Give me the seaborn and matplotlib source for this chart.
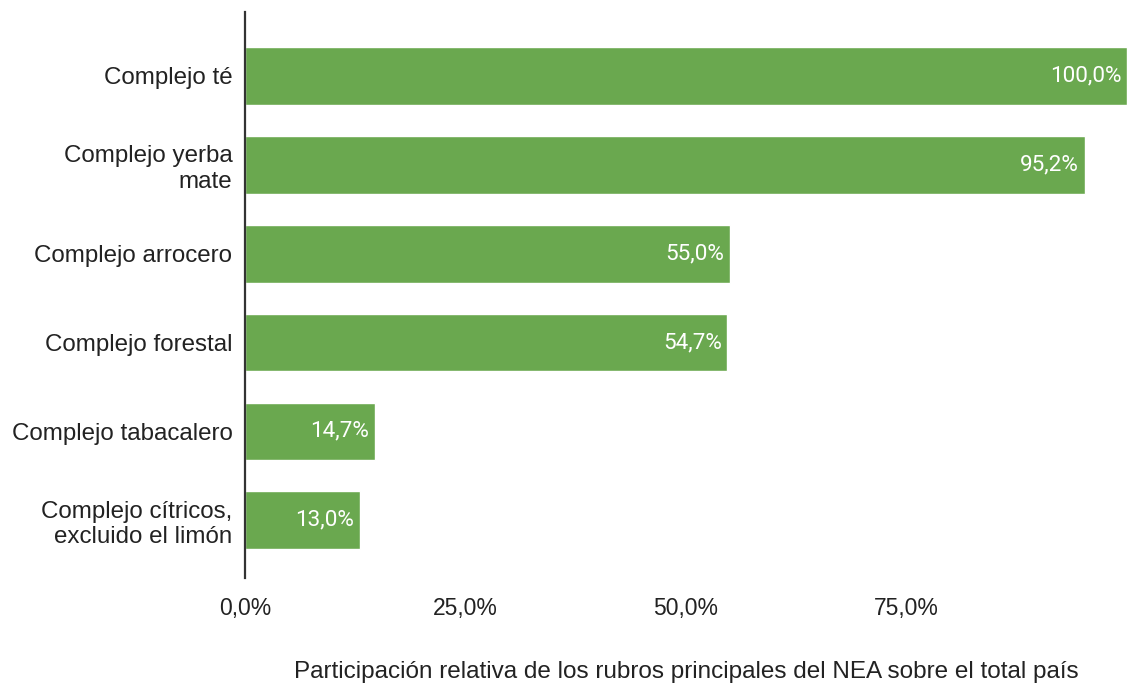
import pandas as pd
import seaborn as sns
import matplotlib.pyplot as plt

# data
rubros = ["Complejo té", "Complejo yerba\nmate", "Complejo arrocero",
          "Complejo forestal", "Complejo tabacalero",
          "Complejo cítricos,\nexcluido el limón"]
participacion = [1.000, 0.952, 0.550, 0.547, 0.147, 0.130]
ticks = [0.0, 0.25, 0.50, 0.75]
tick_labels = ["0,0%", "25,0%", "50,0%", "75,0%"]

df = pd.DataFrame({"rubro": rubros, "valor": participacion})

sns.set_style("white")
plt.rcParams['font.family'] = ['Liberation Sans', 'DejaVu Sans']

fig = plt.figure(figsize=[11.27, 6.84], dpi=100)
ax = fig.add_axes([245/1127, 1-578/684, 1-245/1127, 566/684])
sns.barplot(data=df, x="valor", y="rubro", color="#6aa84f", saturation=1,
            width=0.65, ax=ax)

ax.set_xlim(0, 1.0)
ax.set_ylim(5.65, -0.72)
for s in ["top", "right", "bottom"]:
    ax.spines[s].set_visible(False)
ax.spines["left"].set_color("#333333")
ax.spines["left"].set_linewidth(1.6)
ax.tick_params(length=0)
ax.set_xticks(ticks)
ax.set_xticklabels(tick_labels, color="#222222", fontsize=16.5)
ax.tick_params(axis="x", pad=14)
ax.set_yticks(range(len(rubros)))
ax.set_yticklabels(rubros, color="#222222", ha="right", fontsize=17.4)
ax.tick_params(axis="y", pad=9)
ax.set_ylabel("")
ax.set_xlabel("Participación relativa de los rubros principales del NEA sobre el total país",
              color="#222222", labelpad=29, fontsize=17.5)

# value labels inside the bars, right aligned
for i, v in enumerate(participacion):
    txt = f"{v*100:.1f}%".replace(".", ",")
    ax.annotate(txt, (v, i), xytext=(-4, 0), textcoords="offset points",
                ha="right", va="center", color="white",
                family="Roboto", fontsize=16.2)

plt.savefig("out.png", dpi=100)
